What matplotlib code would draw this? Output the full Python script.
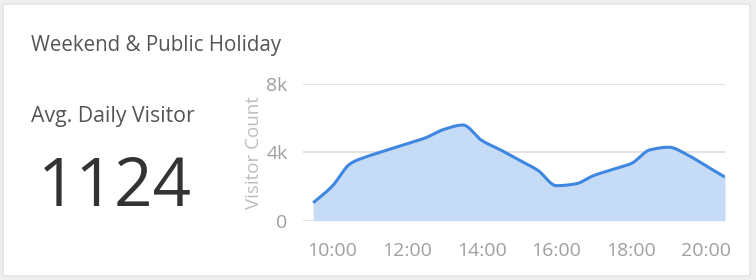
import numpy as np
import matplotlib
matplotlib.use("Agg")
import matplotlib.pyplot as plt
from matplotlib.patches import FancyBboxPatch

# ---- data ----
hours = [9.5, 10.0, 10.5, 11.0, 11.5, 12.0, 12.5, 13.0, 13.5, 14.0, 14.5, 15.0,
         15.5, 16.0, 16.5, 17.0, 17.5, 18.0, 18.5, 19.0, 19.5, 20.0, 20.5]
visitors = [1050, 2000, 3350, 3800, 4150, 4500, 4850, 5350, 5600, 4700, 4150, 3550,
            2950, 2050, 2150, 2650, 3000, 3350, 4150, 4300, 3850, 3200, 2550]
x_ticks = [10, 12, 14, 16, 18, 20]
x_tick_labels = ["10:00", "12:00", "14:00", "16:00", "18:00", "20:00"]
y_ticks = [0, 4000, 8000]
y_tick_labels = ["0", "4k", "8k"]
title = "Weekend & Public Holiday"
kpi_label = "Avg. Daily Visitor"
kpi_value = "1124"


def monotone_curve(x, y, n=20):
    x = np.asarray(x, float); y = np.asarray(y, float)
    h = np.diff(x); d = np.diff(y) / h
    m = np.zeros_like(y)
    m[0] = d[0]; m[-1] = d[-1]
    for i in range(1, len(y) - 1):
        if d[i - 1] * d[i] <= 0:
            m[i] = 0
        else:
            w1 = 2 * h[i] + h[i - 1]; w2 = h[i] + 2 * h[i - 1]
            m[i] = (w1 + w2) / (w1 / d[i - 1] + w2 / d[i])
    xs, ys = [], []
    for i in range(len(x) - 1):
        t = np.linspace(0, 1, n, endpoint=False)
        h00 = 2 * t**3 - 3 * t**2 + 1; h10 = t**3 - 2 * t**2 + t
        h01 = -2 * t**3 + 3 * t**2; h11 = t**3 - t**2
        xs.append(x[i] + t * h[i])
        ys.append(h00 * y[i] + h10 * h[i] * m[i] + h01 * y[i + 1] + h11 * h[i] * m[i + 1])
    xs.append([x[-1]]); ys.append([y[-1]])
    return np.concatenate(xs), np.concatenate(ys)


plt.rcParams['font.family'] = ['Open Sans', 'DejaVu Sans']

fig = plt.figure(figsize=(7.56, 2.80), dpi=100)
fig.patch.set_facecolor('#efefef')
card = FancyBboxPatch((3 / 756, 4 / 280), 747 / 756, 272 / 280,
                      boxstyle="round,pad=0,rounding_size=0.004",
                      transform=fig.transFigure, facecolor='white',
                      edgecolor='#e2e2e2', linewidth=1.0, zorder=-10)
fig.patches.append(card)

fig.text(31 / 756, 1 - 46 / 280, title, fontsize=14.8, color='#555555',
         ha='left', va='center')
fig.text(31 / 756, 1 - 116 / 280, kpi_label, fontsize=15.3, color='#555555',
         ha='left', va='center')
fig.text(115 / 756, 1 - 188 / 280, kpi_value, fontsize=48.5, color='#333333',
         ha='center', va='center')

ax = fig.add_axes([302.7 / 756, 1 - 220.7 / 280, (725 - 302.7) / 756, (220.7 - 84) / 280])
ax.set_zorder(5)
ax.patch.set_visible(False)
xs, ys = monotone_curve(hours, visitors)
ax.fill_between(xs, 0, ys, color='#c6dbf5', linewidth=0, zorder=2)
ax.plot(xs, ys, color='#3f87e0', linewidth=2.2, zorder=3, solid_capstyle='butt')

ax.set_xlim(9.22, 20.5)
ax.set_ylim(0, 8000)
ax.set_yticks(y_ticks)
ax.set_yticklabels(y_tick_labels)
ax.set_xticks(x_ticks)
ax.set_xticklabels(x_tick_labels)
ax.grid(axis='y', color='#e3e3e3', linewidth=1.5, zorder=1)
ax.set_axisbelow(True)
for s in ax.spines.values():
    s.set_visible(False)
ax.tick_params(axis='both', length=0, labelsize=14, labelcolor='#a0a0a0')
ax.tick_params(axis='y', pad=11)
ax.tick_params(axis='x', pad=15)
ax.set_ylabel("Visitor Count", fontsize=13.5, color='#bdbdbd', labelpad=2)

fig.savefig("out.png", dpi=100, facecolor=fig.get_facecolor())
